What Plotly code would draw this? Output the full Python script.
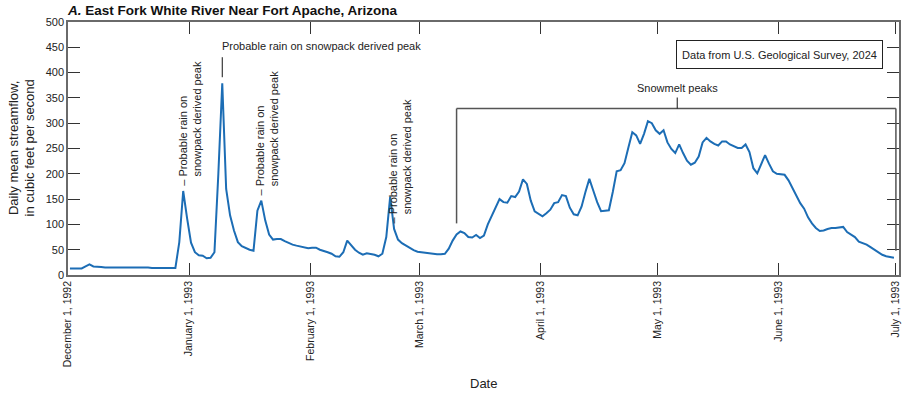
import pandas as pd
import plotly.graph_objects as go

# ---------------- data (daily mean streamflow, cubic feet per second) ----------------
start_date = "1992-12-01"
dec_flow = [13, 13, 13, 13, 17, 21, 17, 17, 16, 15, 15, 15, 16, 16, 16, 16, 16, 16, 15, 15,
            15, 14, 14, 14, 14, 14, 14, 14, 65, 166, 112]
jan_flow = [64, 45, 39, 38, 33, 34, 45, 200, 379, 170, 118, 88, 65, 57, 53, 50, 48, 127, 147, 108,
            80, 70, 71, 71, 67, 63, 60, 58, 56, 54, 53]
feb_flow = [54, 54, 50, 48, 45, 42, 37, 36, 45, 68, 58, 50, 44, 40, 43, 42, 40, 37, 42, 75,
            155, 91, 70, 63, 58, 53, 49, 46]
mar_flow = [45, 43, 42, 41, 41, 41, 42, 52, 68, 80, 86, 83, 75, 74, 79, 73, 78, 100, 116, 133,
            150, 144, 143, 156, 154, 165, 189, 180, 147, 126, 121]
apr_flow = [116, 122, 129, 142, 144, 158, 156, 133, 120, 118, 135, 164, 190, 167, 144, 126, 127, 128, 164, 205,
            207, 221, 252, 282, 276, 259, 279, 304, 300, 286]
may_flow = [279, 286, 262, 249, 241, 258, 241, 226, 218, 222, 234, 262, 271, 264, 259, 256, 264, 264, 258, 255,
            251, 251, 258, 243, 211, 201, 220, 237, 220, 205, 200]
jun_flow = [199, 198, 187, 172, 154, 142, 131, 114, 102, 93, 87, 88, 91, 93, 93, 94, 95, 85, 80, 75,
            66, 63, 60, 55, 50, 44, 40, 37, 35, 34]

rain_peak_dates = ["1992-12-30", "1993-01-09", "1993-01-19", "1993-02-22"]
snowmelt_start, snowmelt_end, snowmelt_label_date = "1993-03-10", "1993-07-01", "1993-05-06"

y_ticks = [0, 50, 100, 150, 200, 250, 300, 350, 400, 450, 500]

flow = dec_flow + jan_flow + feb_flow + mar_flow + apr_flow + may_flow + jun_flow
dates = pd.date_range(start_date, periods=len(flow), freq="D")
x_plot = dates + pd.Timedelta(hours=12)
flow_by_date = dict(zip(dates.strftime("%Y-%m-%d"), flow))

FONT = "Liberation Sans, Arial, sans-serif"
TXT = "#222222"
AXC = "#6a6a6a"
PX = 500 / 253.0  # data units per pixel on y

fig = go.Figure(go.Scatter(x=x_plot, y=flow, mode="lines",
                           line=dict(color="#1c6db5", width=2), hoverinfo="x+y"))

annotations = []
shapes = []

# vertical rain-on-snow annotations
for i in (0, 2, 3):
    d = rain_peak_dates[i]
    xd = pd.Timestamp(d) + pd.Timedelta(hours=12)
    annotations.append(dict(
        x=xd, y=flow_by_date[d], xref="x", yref="y", showarrow=False,
        text="– Probable rain on<br>\u00a0\u00a0\u00a0snowpack derived peak",
        textangle=-90, align="left", xanchor="left", yanchor="bottom",
        xshift=-9, yshift=3, font=dict(family=FONT, size=11, color=TXT)))

# horizontal annotation for the big peak
d = rain_peak_dates[1]
xd = pd.Timestamp(d) + pd.Timedelta(hours=12)
pk = flow_by_date[d]
annotations.append(dict(
    x=xd, y=pk + 29 * PX, xref="x", yref="y", showarrow=False,
    text="Probable rain on snowpack derived peak", xanchor="left", yanchor="bottom",
    xshift=-2, font=dict(family=FONT, size=11, color=TXT)))
shapes.append(dict(type="line", xref="x", yref="y", x0=xd, x1=xd,
                   y0=pk + 6 * PX, y1=pk + 26 * PX, line=dict(color="#111", width=1)))

# snowmelt bracket
s0 = pd.Timestamp(snowmelt_start) + pd.Timedelta(hours=12)
s1 = pd.Timestamp(snowmelt_end)
top = 329
bl = dict(color="#555", width=1.5)
shapes.append(dict(type="line", xref="x", yref="y", x0=s0, x1=s0, y0=102, y1=top, line=bl))
shapes.append(dict(type="line", xref="x", yref="y", x0=s0, x1=s1, y0=top, y1=top, line=bl))
shapes.append(dict(type="line", xref="x", yref="y", x0=s1, x1=s1, y0=top, y1=48, line=bl))
sl = pd.Timestamp(snowmelt_label_date)
shapes.append(dict(type="line", xref="x", yref="y", x0=sl, x1=sl, y0=top, y1=top + 11 * PX,
                   line=dict(color="#111", width=1)))
annotations.append(dict(x=sl, y=top + 13 * PX, xref="x", yref="y", showarrow=False,
                        text="Snowmelt peaks", xanchor="center", yanchor="bottom",
                        font=dict(family=FONT, size=11, color=TXT)))

# source box
annotations.append(dict(x=1, y=1, xref="paper", yref="paper", xanchor="right", yanchor="top",
                        xshift=-16, yshift=-18, showarrow=False,
                        text="Data from U.S. Geological Survey, 2024",
                        width=201, height=23, borderpad=2, bordercolor="#222", borderwidth=1,
                        bgcolor="white", font=dict(family=FONT, size=11, color=TXT)))

# axis titles
annotations.append(dict(x=0, y=0.5, xref="paper", yref="paper", xshift=-47, showarrow=False,
                        text="Daily mean streamflow,<br>in cubic feet per second", textangle=-90,
                        xanchor="center", yanchor="middle",
                        font=dict(family=FONT, size=13, color=TXT)))
annotations.append(dict(x=0.5, y=0, xref="paper", yref="paper", yshift=-108, showarrow=False,
                        text="Date", xanchor="center", yanchor="middle",
                        font=dict(family=FONT, size=13, color=TXT)))

fig.update_layout(
    width=905, height=397,
    margin=dict(l=68, r=6, t=22, b=122, autoexpand=False),
    paper_bgcolor="white", plot_bgcolor="white",
    showlegend=False,
    title=dict(text="<b><i>A.</i> East Fork White River Near Fort Apache, Arizona</b>",
               x=68 / 905, xanchor="left", xref="container",
               y=1 - 10 / 397, yanchor="middle", yref="container",
               font=dict(family=FONT, size=13.5, color="#111")),
    xaxis=dict(type="date", range=["1992-12-01", "1993-07-01 19:00"],
               tick0="1992-12-01", dtick="M1", tickformat="%B %-d, %Y", tickangle=-90,
               ticks="inside", ticklen=12, tickwidth=1.2, tickcolor="#333",
               showline=True, linecolor=AXC, linewidth=1.5, mirror="ticks",
               showgrid=False, zeroline=False, automargin=False,
               tickfont=dict(family=FONT, size=10.5, color=TXT)),
    yaxis=dict(range=[0, 500], tickvals=y_ticks,
               ticks="inside", ticklen=12, tickwidth=1.2, tickcolor="#333",
               showline=True, linecolor=AXC, linewidth=1.5, mirror="ticks",
               showgrid=False, zeroline=False, automargin=False,
               tickfont=dict(family=FONT, size=11, color=TXT)),
    annotations=annotations, shapes=shapes,
)

fig.write_html("out.html", config={"displayModeBar": False},
               post_script="document.body.style.margin='0';document.body.style.overflow='hidden';")
